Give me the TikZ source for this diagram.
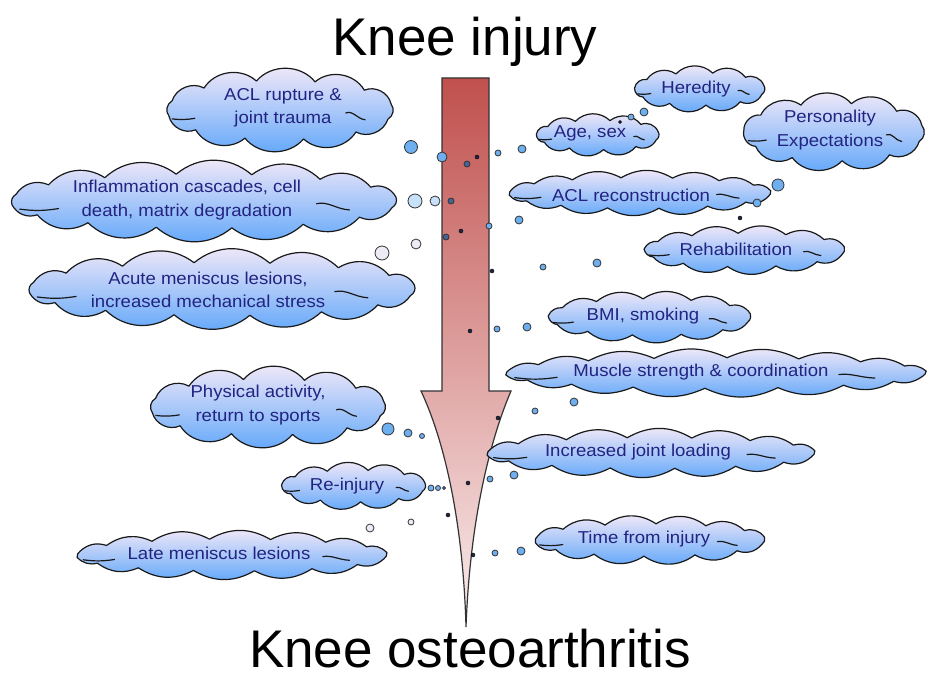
\documentclass[tikz,border=0pt]{standalone}
\usepackage{fontspec}
\setmainfont{Liberation Sans}
\newfontfamily\cloudfont{Liberation Sans}[FakeStretch=1.08]
\usetikzlibrary{calc}
\definecolor{cloudtop}{RGB}{245,234,248}
\definecolor{cloudbot}{RGB}{95,166,250}
\definecolor{navy}{RGB}{35,35,130}
\definecolor{arrowtop}{RGB}{192,80,77}
\definecolor{arrowbot}{RGB}{250,238,238}
\definecolor{bub}{RGB}{110,175,240}
\definecolor{bubpale}{RGB}{200,225,250}
\definecolor{bubwhite}{RGB}{238,234,246}
\definecolor{bubmid}{RGB}{70,100,150}
\definecolor{dotc}{RGB}{30,40,70}
% #1 name, #2 cx, #3 cy, #4 width, #5 height, #6 puffs, #7 bend angle
\newcommand\cloudshape[7]{%
  \pgfmathsetmacro\ck{0.294*sin(#7)*2*pi/#6}%
  \pgfmathsetmacro\ca{(#4/2-\ck*#5/2)/(1-\ck*\ck)}%
  \pgfmathsetmacro\cb{(#5/2-\ck*#4/2)/(1-\ck*\ck)}%
  \pgfmathsetmacro\cs{180/#6+3}%
  \coordinate (#1) at (#2,#3);
  \path[cloudfill] ({#2+\ca*cos(\cs)},{#3+\cb*sin(\cs)})
    \foreach \k in {1,...,#6}{ to[bend left=#7] ({#2+\ca*cos(\cs+\k*360/#6)},{#3+\cb*sin(\cs+\k*360/#6)}) } -- cycle;
  \draw[curl] ({#2-0.95*\ca},{#3+0.3*\cb}) to[bend right=8] ({#2-0.75*\ca},{#3+0.28*\cb});
  \draw[curl] ({#2+0.58*\ca},{#3+0.1*\cb}) .. controls ({#2+0.64*\ca},{#3+0.0*\cb}) and ({#2+0.68*\ca},{#3+0.3*\cb}) .. ({#2+0.75*\ca},{#3+0.33*\cb});
}
\begin{document}
\begin{tikzpicture}[x=1pt,y=-1pt,
  cloudfill/.style={draw=black!90, line width=1.2pt, top color=cloudtop, bottom color=cloudbot, line join=round},
  curl/.style={draw=black!90, line width=1.2pt, line cap=round},
  ctext/.style={text=navy, align=center, font=\cloudfont\fontsize{17.2}{23.5}\selectfont, inner sep=0pt},
  title/.style={font=\fontsize{53}{60}\selectfont, anchor=base, inner sep=0pt},
  bubble/.style={circle, draw=black!80, line width=0.8pt, fill=bub, inner sep=0pt, minimum size=#1},
  pale/.style={bubble=#1, fill=bubpale},
  whiteb/.style={bubble=#1, fill=bubwhite},
  midb/.style={bubble=#1, fill=bubmid},
  dotb/.style={circle, fill=dotc, draw=black, line width=0.4pt, inner sep=0pt, minimum size=#1},
  arrowbody/.style={draw=black!80, line width=1.2pt, top color=arrowtop, bottom color=arrowbot}
]
\useasboundingbox (0,0) rectangle (930,677);

% titles
\node[title] (top) at (465,56) {Knee injury};
\node[title] (bottom) at (470,667) {Knee osteoarthritis};

% main arrow
\draw[arrowbody] (442,78) -- (489,78) -- (489,391) -- (511,391)
  .. controls (490,440) and (470,520) .. (466,627)
  .. controls (463,520) and (444,440) .. (421,391) -- (442,391) -- cycle;

% left clouds
\cloudshape{c1}{280}{110}{234}{86}{12}{50}
\node[ctext] (t1) at (283,108) {ACL rupture \&\\joint trauma};
\cloudshape{c2}{204}{201}{392}{83}{16}{40}
\node[ctext] (t2) at (187,200) {Inflammation cascades, cell\\death, matrix degradation};
\cloudshape{c3}{222}{289}{393}{82}{16}{40}
\node[ctext] (t3) at (208,290) {Acute meniscus lesions,\\increased mechanical stress};
\cloudshape{c4}{268}{407}{243}{84}{12}{50}
\node[ctext] (t4) at (258,405) {Physical activity,\\return to sports};
\cloudshape{c5}{354}{486}{149}{49}{11}{45}
\node[ctext] (t5) at (347,486) {Re-injury};
\cloudshape{c6}{232}{555}{315}{50}{16}{30}
\node[ctext] (t6) at (219,553) {Late meniscus lesions};

% right clouds
\cloudshape{c7}{700}{89}{135}{48}{11}{45}
\node[ctext] (t7) at (696,89) {Heredity};
\cloudshape{c8}{598}{135}{127}{44}{11}{45}
\node[ctext] (t8) at (590,133) {Age, sex};
\cloudshape{c9}{834}{132}{188}{81}{11}{50}
\node[ctext] (t9) at (830,130) {Personality\\Expectations};
\cloudshape{c10}{640}{193}{266}{46}{16}{30}
\node[ctext] (t10) at (631,195) {ACL reconstruction};
\cloudshape{c11}{745}{250}{205}{50}{13}{35}
\node[ctext] (t11) at (736,249) {Rehabilitation};
\cloudshape{c12}{650}{317}{207}{53}{13}{35}
\node[ctext] (t12) at (643,316) {BMI, smoking};
\cloudshape{c13}{716}{373}{425}{49}{18}{25}
\node[ctext] (t13) at (701,372) {Muscle strength \& coordination};
\cloudshape{c14}{651}{453}{333}{50}{16}{30}
\node[ctext] (t14) at (638,452) {Increased joint loading};
\cloudshape{c15}{650}{540}{235}{50}{14}{35}
\node[ctext] (t15) at (644,539) {Time from injury};

% bubbles
\node[bubble=13pt] (b1) at (411,147) {};
\node[bubble=10pt] (b2) at (442,157) {};
\node[midb=6pt] (b3) at (467,164) {};
\node[dotb=4pt] (b4) at (477,157) {};
\node[bubble=6pt] (b5) at (498,153) {};
\node[bubble=8pt] (b6) at (522,149) {};
\node[pale=14pt] (b7) at (415,201) {};
\node[pale=10pt] (b8) at (435,201) {};
\node[midb=6pt] (b9) at (451,201) {};
\node[bubble=6pt] (b10) at (489,226) {};
\node[bubble=8pt] (b11) at (519,220) {};
\node[dotb=4pt] (b12) at (461,231) {};
\node[midb=6pt] (b13) at (446,237) {};
\node[whiteb=10pt] (b14) at (416,244) {};
\node[whiteb=14pt] (b15) at (382,253) {};
\node[dotb=4pt] (b16) at (492,271) {};
\node[bubble=6pt] (b17) at (543,267) {};
\node[bubble=8pt] (b18) at (597,263) {};
\node[dotb=4pt] (b19) at (470,331) {};
\node[bubble=6pt] (b20) at (497,329) {};
\node[bubble=8pt] (b21) at (527,327) {};
\node[bubble=8pt] (b22) at (574,402) {};
\node[bubble=6pt] (b23) at (535,411) {};
\node[dotb=4pt] (b24) at (498,418) {};
\node[bubble=12pt] (b25) at (388,429) {};
\node[bubble=8pt] (b26) at (408,433) {};
\node[bubble=5pt] (b27) at (422,436) {};
\node[bubble=6pt] (b28) at (490,479) {};
\node[bubble=8pt] (b29) at (514,475) {};
\node[dotb=4pt] (b30) at (468,483) {};
\node[bubble=6pt] (b31) at (431,488) {};
\node[bubble=5pt] (b32) at (438,488) {};
\node[bubble=3pt] (b33) at (444,488) {};
\node[dotb=4pt] (b34) at (448,515) {};
\node[whiteb=6pt] (b35) at (411,522) {};
\node[whiteb=8pt] (b36) at (370,528) {};
\node[dotb=4pt] (b37) at (473,555) {};
\node[bubble=6pt] (b38) at (495,553) {};
\node[bubble=8pt] (b39) at (521,551) {};
\node[bubble=8pt] (b40) at (644,112) {};
\node[bubble=6pt] (b41) at (631,117) {};
\node[dotb=3pt] (b42) at (620,122) {};
\node[bubble=12pt] (b43) at (778,185) {};
\node[bubble=8pt] (b44) at (757,203) {};
\node[dotb=4pt] (b45) at (740,218) {};
\end{tikzpicture}
\end{document}
